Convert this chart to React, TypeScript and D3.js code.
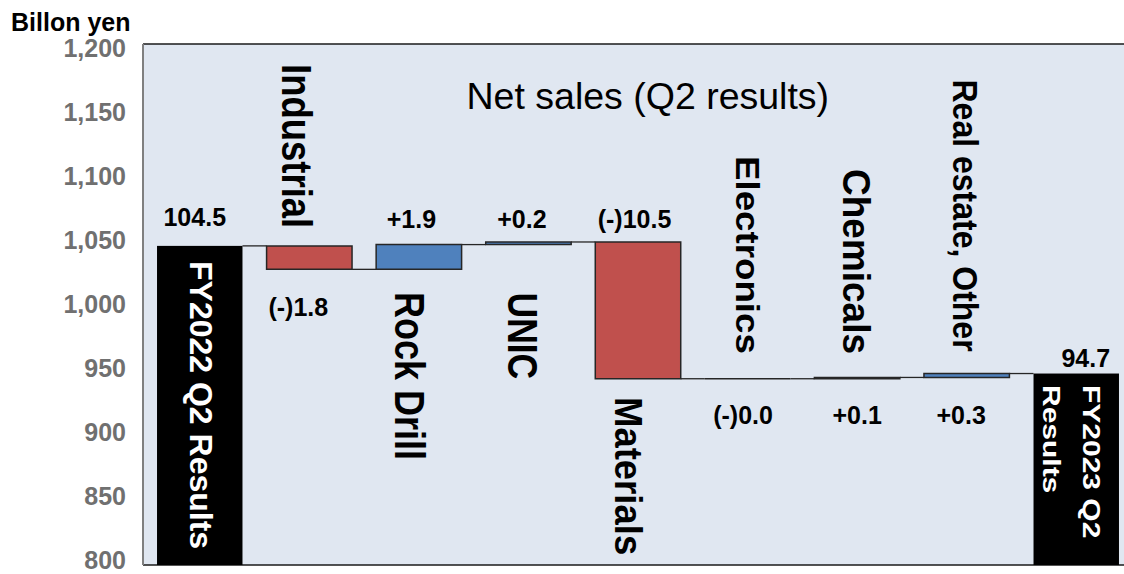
import React from 'react';
import * as d3 from 'd3';

// Net sales bridge, FY2022 Q2 -> FY2023 Q2 (billion yen)
const categories = [
  'FY2022 Q2 Results',
  'Industrial',
  'Rock Drill',
  'UNIC',
  'Materials',
  'Electronics',
  'Chemicals',
  'Real estate, Other',
  'FY2023 Q2 Results',
];
const startValue = 104.5;
const deltas = [-1.8, 1.9, 0.2, -10.5, -0.0, 0.1, 0.3];
const endValue = 94.7;
const yTicks = [800, 850, 900, 950, 1000, 1050, 1100, 1150, 1200];

const W = 1124;
const H = 574;
const FONT = "'Liberation Sans', Arial, Helvetica, sans-serif";
const PLOT = { left: 143, right: 1133, top: 44, bottom: 565 };
const RED = '#C0504D';
const BLUE = '#4F81BD';
const BG = '#E0E7F1';
const OUTLINE = '#262626';

// axis is drawn in units of 100 million yen
const toAxis = (v: number) => Math.round(v * 100) / 10;

type Bar = { name: string; lo: number; hi: number; kind: 'total' | 'up' | 'down'; value: number; end: number };

function buildBars(): Bar[] {
  const bars: Bar[] = [];
  let run = toAxis(startValue);
  bars.push({ name: categories[0], lo: 800, hi: run, kind: 'total', value: startValue, end: run });
  deltas.forEach((d, i) => {
    const next = Math.round((run + d * 10) * 10) / 10;
    bars.push({
      name: categories[i + 1],
      lo: Math.min(run, next),
      hi: Math.max(run, next),
      kind: d < 0 || Object.is(d, -0) ? 'down' : 'up',
      value: d,
      end: next,
    });
    run = next;
  });
  bars.push({ name: categories[categories.length - 1], lo: 800, hi: toAxis(endValue), kind: 'total', value: endValue, end: toAxis(endValue) });
  return bars;
}

const fmtValue = (b: Bar) => {
  if (b.kind === 'total') return b.value.toFixed(1);
  const neg = b.value < 0 || Object.is(b.value, -0);
  return (neg ? '(-)' : '+') + Math.abs(b.value).toFixed(1);
};

// value-label placement per column: side of the bar, gap in px, horizontal nudge
const valueLabelLayout = [
  { side: 'above', gap: 19.5, dx: -5 },
  { side: 'below', gap: 46.5, dx: -11 },
  { side: 'above', gap: 16.5, dx: -7.5 },
  { side: 'above', gap: 14, dx: -6.5 },
  { side: 'above', gap: 14, dx: -3.5 },
  { side: 'below', gap: 45.5, dx: -4.5 },
  { side: 'below', gap: 45.5, dx: 0 },
  { side: 'below', gap: 46.5, dx: -5.5 },
  { side: 'above', gap: 7, dx: 9.5 },
];

// rotated category names: lines, baseline offset from band centre, start y, font size, cross-stretch, colour
const nameLayout = [
  { lines: ['FY2022 Q2 Results'], dx: [-9.5], y: 261, size: 32, sy: 1.0, fill: '#fff' },
  { lines: ['Industrial'], dx: [-27], y: 64, size: 36.5, sy: 1.15, fill: '#000' },
  { lines: ['Rock Drill'], dx: [-23.5], y: 292, size: 36, sy: 1.16, fill: '#000' },
  { lines: ['UNIC'], dx: [-20], y: 292.5, size: 35.5, sy: 1.18, fill: '#000' },
  { lines: ['Materials'], dx: [-22.7], y: 397, size: 36.5, sy: 1.07, fill: '#000' },
  { lines: ['Electronics'], dx: [-12], y: 156, size: 36.7, sy: 0.9, fill: '#000' },
  { lines: ['Chemicals'], dx: [-14], y: 169, size: 37, sy: 1.04, fill: '#000' },
  { lines: ['Real estate, Other'], dx: [-13.8], y: 79.5, size: 32, sy: 1.09, fill: '#000' },
  { lines: ['FY2023 Q2', 'Results'], dx: [7, -33], y: 385, size: 30, sy: 0.79, fill: '#fff' },
];

// rectangle as a closed path so that a zero-height change still shows its outline
const barPath = (x0: number, y0: number, w: number, h: number) =>
  `M${x0},${y0}h${w}v${h}h${-w}Z`;

export default function App() {
  const bars = buildBars();

  const x = d3
    .scaleBand<string>()
    .domain(categories)
    .range([PLOT.left, PLOT.right])
    .paddingInner(0.22)
    .paddingOuter(0.128);
  const y = d3.scaleLinear().domain([800, 1200]).range([PLOT.bottom, PLOT.top]);
  const yLabel = d3.scaleLinear().domain([800, 1200]).range([559.5, 48.3]);
  const bw = x.bandwidth();
  const fmtTick = d3.format(',');

  return (
    <svg
      width={W}
      height={H}
      viewBox={`0 0 ${W} ${H}`}
      style={{ position: 'absolute', left: 0, top: 0, background: '#fff' }}
      fontFamily={FONT}
    >
      {/* plot area */}
      <rect x={PLOT.left} y={PLOT.top} width={W - PLOT.left + 20} height={PLOT.bottom - PLOT.top} fill={BG} />
      <line x1={PLOT.left} x2={W + 5} y1={PLOT.top} y2={PLOT.top} stroke="#1a1a1a" strokeWidth={1.5} />
      <line x1={PLOT.left} x2={W + 5} y1={PLOT.bottom} y2={PLOT.bottom} stroke="#1a1a1a" strokeWidth={1.5} />
      <line x1={PLOT.left} x2={PLOT.left} y1={PLOT.top} y2={PLOT.bottom} stroke="#808080" strokeWidth={2} />

      {/* y tick labels */}
      {yTicks.map((t) => (
        <text
          key={t}
          x={126}
          y={yLabel(t)}
          dy={9}
          textAnchor="end"
          fontSize={25}
          fontWeight="bold"
          fill="#707070"
        >
          {fmtTick(t)}
        </text>
      ))}
      <text x={11} y={30.7} fontSize={25} fontWeight="bold" fill="#000">
        Billon yen
      </text>

      {/* title */}
      <text x={466.5} y={109.3} fontSize={37.5} fill="#000">
        Net sales (Q2 results)
      </text>

      {/* connectors */}
      {bars.slice(0, -1).map((b, i) => {
        const nx = x(bars[i + 1].name)!;
        const level = y(b.end);
        return (
          <line
            key={'c' + i}
            x1={x(b.name)! + bw}
            x2={nx}
            y1={level}
            y2={level}
            stroke={OUTLINE}
            strokeWidth={1.3}
          />
        );
      })}

      {/* bars */}
      {bars.map((b) => {
        const top = y(b.hi);
        const h = y(b.lo) - top;
        if (b.kind === 'total') {
          return <rect key={b.name} x={x(b.name)} y={top} width={bw} height={h} fill="#000" />;
        }
        return (
          <path
            key={b.name}
            d={barPath(x(b.name)!, top, bw, Math.max(h, 0))}
            fill={b.kind === 'down' ? RED : BLUE}
            stroke={OUTLINE}
            strokeWidth={1.5}
          />
        );
      })}

      {/* value labels */}
      {bars.map((b, i) => {
        const L = valueLabelLayout[i];
        const cx = x(b.name)! + bw / 2 + L.dx;
        const yy = L.side === 'above' ? y(b.hi) - L.gap : y(b.lo) + L.gap;
        return (
          <text key={'v' + i} x={cx} y={yy} textAnchor="middle" fontSize={25} fontWeight="bold" fill="#000">
            {fmtValue(b)}
          </text>
        );
      })}

      {/* rotated category names */}
      {bars.map((b, i) => {
        const N = nameLayout[i];
        const cx = x(b.name)! + bw / 2;
        return N.lines.map((line, j) => (
          <text
            key={'n' + i + '-' + j}
            transform={`translate(${cx + N.dx[j]},${N.y}) rotate(90) scale(1,${N.sy})`}
            fontSize={N.size}
            fontWeight="bold"
            fill={N.fill}
          >
            {line}
          </text>
        ));
      })}
    </svg>
  );
}
